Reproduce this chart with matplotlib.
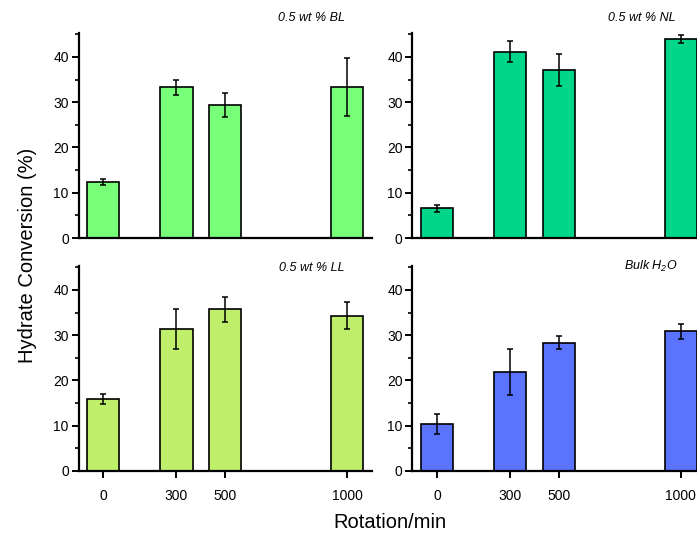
import matplotlib.pyplot as plt
from matplotlib.ticker import MultipleLocator

plt.rcParams['font.family'] = ['Liberation Sans', 'DejaVu Sans']
plt.rcParams['mathtext.fontset'] = 'custom'
plt.rcParams['mathtext.rm'] = 'Liberation Sans:italic'
plt.rcParams['mathtext.it'] = 'Liberation Sans:italic'

rotation = [0, 300, 500, 1000]
rot_labels = ['0', '300', '500', '1000']

bl = [12.4, 33.3, 29.4, 33.4]
bl_err = [0.6, 1.6, 2.6, 6.4]
nl = [6.6, 41.2, 37.1, 44.0]
nl_err = [0.8, 2.4, 3.5, 0.85]
ll = [15.9, 31.3, 35.7, 34.3]
ll_err = [1.1, 4.4, 2.8, 3.0]
bulk = [10.4, 21.9, 28.3, 30.9]
bulk_err = [2.2, 5.0, 1.45, 1.65]

W, H = 697, 534
fig = plt.figure(figsize=(W / 100, H / 100), dpi=100)


def make_ax(x0, x1, y_top, y_bot):
    return fig.add_axes([x0 / W, 1 - y_bot / H, (x1 - x0) / W, (y_bot - y_top) / H])


panels = [
    (make_ax(78.5, 371.8, 33, 238), bl, bl_err, '#78FF78', False),
    (make_ax(412.4, 705.7, 33, 238), nl, nl_err, '#00D68A', False),
    (make_ax(78.5, 371.8, 266, 471), ll, ll_err, '#BFEE6B', True),
    (make_ax(412.4, 705.7, 266, 471), bulk, bulk_err, '#5A74FF', True),
]

for ax, vals, errs, col, show_x in panels:
    ax.bar(rotation, vals, width=132, color=col, edgecolor='black', linewidth=1.2,
           yerr=errs, error_kw=dict(ecolor='black', elinewidth=1.1, capsize=2.5, capthick=1.1),
           zorder=2)
    ax.set_xlim(-102, 1102)
    ax.set_ylim(0, 45.3)
    ax.yaxis.set_major_locator(MultipleLocator(10))
    ax.yaxis.set_minor_locator(MultipleLocator(5))
    for s in ['top', 'right']:
        ax.spines[s].set_visible(False)
    for s in ['left', 'bottom']:
        ax.spines[s].set_linewidth(1.6)
    ax.tick_params(axis='y', which='major', direction='out', length=5, width=1.4,
                   labelsize=10, pad=2)
    ax.tick_params(axis='y', which='minor', direction='out', length=3, width=1.2)
    if show_x:
        ax.set_xticks(rotation)
        ax.set_xticklabels(rot_labels)
        ax.tick_params(axis='x', direction='out', length=5, width=1.4, labelsize=10, pad=8)
    else:
        ax.set_xticks([])

fig.text(345 / W, 1 - 18 / H, '0.5 wt % BL', ha='right', va='center', style='italic', fontsize=9)
fig.text(676 / W, 1 - 18 / H, '0.5 wt % NL', ha='right', va='center', style='italic', fontsize=9)
fig.text(345 / W, 1 - 268 / H, '0.5 wt % LL', ha='right', va='center', style='italic', fontsize=9)
fig.text(678 / W, 1 - 266 / H, r'Bulk H$_{2}$O', ha='right', va='center', style='italic', fontsize=9)

fig.text(28 / W, 1 - 255 / H, 'Hydrate Conversion (%)', rotation=90, ha='center', va='center',
         fontsize=14.5)
fig.text(390 / W, 1 - 522 / H, 'Rotation/min', ha='center', va='center', fontsize=14.5)

fig.savefig('out.png', dpi=100)
